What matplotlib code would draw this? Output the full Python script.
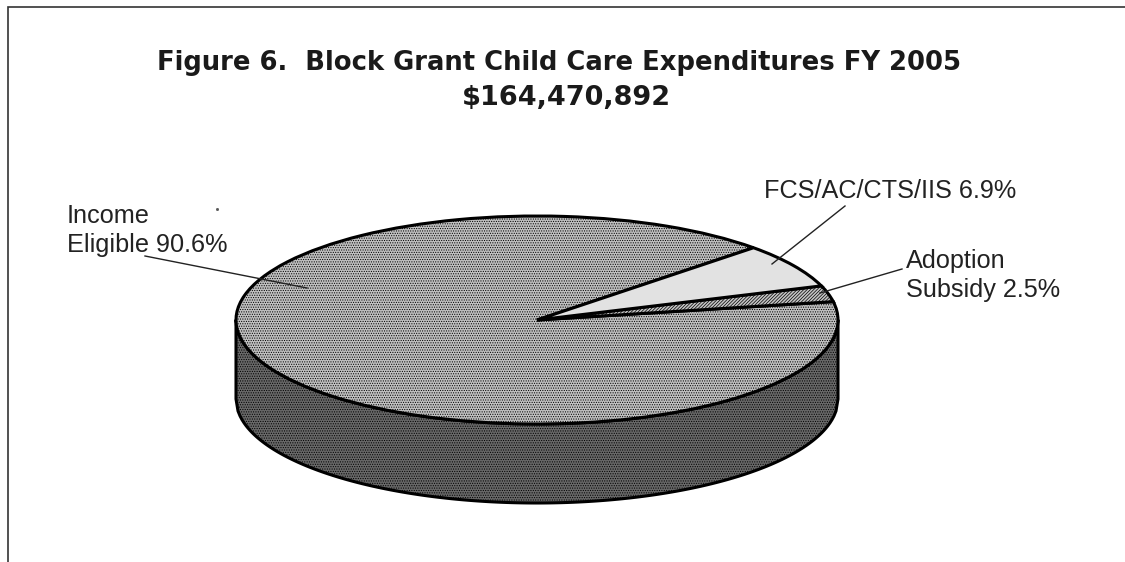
import numpy as np
import matplotlib
matplotlib.use('Agg')
import matplotlib.pyplot as plt

title_lines = ['Figure 6.  Block Grant Child Care Expenditures FY 2005', '$164,470,892']
slice_names = ['Income Eligible', 'Adoption Subsidy', 'FCS/AC/CTS/IIS']
slice_values = [90.6, 2.5, 6.9]
slice_colors = ['#c0c0c0', '#c4c4c4', '#e2e2e2']
slice_hatches = ['.......', '//////////', None]

W, H = 1125, 562
cx, cy, rx, ry = 537, 320, 301, 104
depth = 79 / ry

plt.rcParams['hatch.linewidth'] = 0.5
fig = plt.figure(figsize=(W / 100, H / 100), dpi=100, facecolor='white')

# pie axes: one data unit is rx pixels across and ry pixels down
ax = fig.add_axes([0, 0, 1, 1])
wedges, _ = ax.pie(slice_values, startangle=44, colors=slice_colors, radius=1,
                   wedgeprops={'edgecolor': 'black', 'linewidth': 2.2})
for w, h in zip(wedges, slice_hatches):
    w.set_hatch(h)
    w.set_zorder(3)
ax.set_aspect('auto')
ax.set_xlim(-cx / rx, (W - cx) / rx)
ax.set_ylim(-(H - cy) / ry, cy / ry)

# side wall of the disc
x = np.linspace(-1, 1, 300)
rim = -np.sqrt(1 - x ** 2)
ax.fill_between(x, rim - depth, rim, facecolor='#686868', edgecolor='black',
                linewidth=2.2, hatch='.......', zorder=2)

# overlay in pixel coords for frame, text and leader lines
ov = fig.add_axes([0, 0, 1, 1], facecolor='none')
ov.set_xlim(0, W)
ov.set_ylim(H, 0)
ov.axis('off')

ov.plot([8, 8, W], [H, 7, 7], color='#333333', lw=1.2, solid_joinstyle='miter')

ov.text(559, 70, title_lines[0], family='DejaVu Sans', weight='bold', fontsize=18.6,
        ha='center', va='baseline', color='#1a1a1a')
ov.text(566, 105, title_lines[1], family='DejaVu Sans', weight='bold', fontsize=19.5,
        ha='center', va='baseline', color='#1a1a1a')

label_font = {'family': 'Liberation Sans', 'fontsize': 18.2, 'color': '#222222', 'va': 'baseline'}
ov.text(67, 223, 'Income', **label_font)
ov.text(67, 252, 'Eligible 90.6%', **label_font)
ov.text(764, 198, 'FCS/AC/CTS/IIS 6.9%', **label_font)
ov.text(906, 268, 'Adoption', **label_font)
ov.text(906, 297, 'Subsidy 2.5%', **label_font)

for xs, ys in [([145, 307], [256, 288]), ([845, 772], [206, 264]), ([902, 820], [269, 293])]:
    ov.plot(xs, ys, color='#222222', lw=1)
ov.plot([217], [209], marker='s', ms=1, color='#555555')

fig.savefig('out.png', dpi=100)
